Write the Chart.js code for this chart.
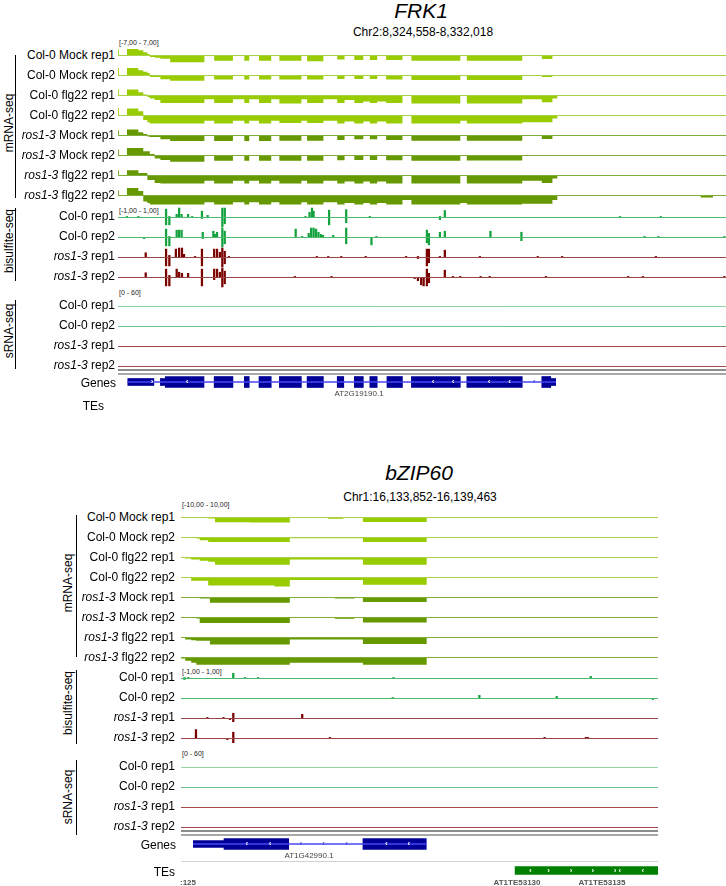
<!DOCTYPE html>
<html>
<head>
<meta charset="utf-8">
<script src="https://cdn.jsdelivr.net/npm/chart.js@4/dist/chart.umd.min.js"></script>
<style>
  body { margin: 0; background: #fff; }
  #page { position: relative; width: 726px; height: 886px; overflow: hidden; background: #fff;
          font-family: "Liberation Sans", Arial, sans-serif; }
  #page canvas { position: absolute; }
  .t { position: absolute; white-space: nowrap; color: #000; }
</style>
</head>
<body>
<div id="page"></div>
<script>
// ---------------- data ----------------
// FRK1 window Chr2:8,324,558-8,332,018, positions are bp from window start
const frkSpan = 7460;
const frkBins = [0, 10, 110, 250, 310, 360, 390, 450, 520, 640, 1060, 1180, 1410, 1550, 1610, 1730, 1880, 1980, 2250,
  2320, 2520, 2690, 2780, 2900, 3010, 3090, 3180, 3290, 3490, 3600, 4200, 4280, 4960, 5200, 5330, 5390, 7150, 7300];

// mRNA-seq coverage per bin (range -7..7, minus strand below the line)
const frkColMock1 = [4, 0, 4.4, 3.5, 2.1, 1, -1, -1.5, -2.1, -4.5, 0, -3.5, 0, -3.5, 0, -3.5, 0, -3.5, 0, -3.8, 0, -2.6, 0, -3, 0, -3, 0, -3, 0, -3.5, 0, -3.5, 0, -2.3, 0, 0, 0, 0];
const frkColMock2 = [5, 0, 5, 3.5, 2.5, 1.7, -1, -1, -2.5, -3.5, 0, -2.6, 0, -2.6, 0, -2.6, 0, -2.6, 0, -2.6, 0, -2.4, 0, -2.3, 0, -2.3, 0, -2.6, 0, -3, 0, -3, 0, -1, 0, 0, 0, 0];
const frkColFlg1 = [4, 0, 4, 2.1, 0.7, -1, -2, -3, -5, -5, -2.5, -5, -2.5, -5, -2.5, -5, -2.5, -5.4, -2.5, -5, -2.5, -5, -3, -5, -4, -5, -4, -5, 0, -5.4, 0, -5.4, -2.5, -4.5, -2, 0, 0, 0];
const frkColFlg2 = [5, 0, 4.7, 2.8, -3, -4.5, -5.4, -5.4, -5.4, -5.4, -3.5, -5.4, -3.5, -5.4, -3.5, -5.4, -3.5, -5, -3.5, -5, -3.5, -5.4, -4, -5.4, -4, -5.4, -4, -5.4, 0, -5.4, -3.5, -5.4, -4.5, -4.5, -2, 0, 0, 0];
const frkRosMock1 = [3.5, 0, 4, 2.1, 1, -0.7, -1, -1, -2.5, -3.7, 0, -3.7, 0, -3.7, 0, -3.7, 0, -3.5, 0, -3.5, 0, -3, 0, -2.5, 0, -2.5, 0, -3, 0, -3.5, 0, -3.5, 0, -2.3, 0, 0, 0, 0];
const frkRosMock2 = [4, 0, 5, 5, 2.8, 2.8, 1, -2, -3, -4.2, 0, -3.5, 0, -3.5, 0, -3.5, 0, -3.5, 0, -3.5, 0, -3.2, 0, -3, 0, -3, 0, -3.2, 0, -3.5, 0, -3.3, 0, 0, 0, 0, 0, 0];
const frkRosFlg1 = [3.5, 0, 3.5, 1.7, 1.7, -3, -3, -5, -5.4, -5.4, -3.5, -5.4, -3.5, -5.4, -3.5, -5.4, -3.5, -5.4, -3.5, -5.4, -3.5, -5.4, -4, -5.4, -4, -5.4, -4, -5.4, 0, -5.4, 0, -5.4, -3.5, -5, -2, 0, 0, 0];
const frkRosFlg2 = [3.5, 0, 5, 3, -4, -5, -6, -6, -6, -6, -4.5, -6, -4.5, -6, -4.5, -6, -4.5, -6, -4.5, -6, -4.5, -6, -5, -6, -5, -6, -5, -6, -3, -6, -5, -6, -5.5, -5.5, -3, 0, -1.4, 0];

// bisulfite-seq methylation (range -1..1): position, top, bottom
const frkBsCol1Pos = [110, 250, 590, 630, 720, 750, 780, 860, 910, 1030, 1100, 1280, 1310, 2300, 2350, 2380, 2400, 2590, 2800, 3090, 3950, 4010, 6160, 6660];
const frkBsCol1Hi  = [0.1, 0.1, 0.8, 0.1, 0.3, 0.9, 0.3, 0.3, 0.1, 0.6, 0.2, 0.9, 0.9, 0.1, 0.5, 0.9, 0.6, 0.7, 0.75, 0.1, 0.1, 0.67, 0.1, 0.1];
const frkBsCol1Lo  = [0, 0, -0.7, -0.7, 0, 0, 0, 0, 0, -0.1, 0, -0.9, -0.6, 0, 0, 0, 0, -0.7, -0.5, 0, -0.2, 0, 0, 0];
const frkBsCol2Pos = [320, 590, 630, 720, 750, 780, 1040, 1170, 1190, 1215, 1280, 1310, 2180, 2260, 2340, 2370, 2400, 2430, 2460, 2490, 2515, 2640, 2800, 3110, 3170, 3790, 3815, 3950, 4010, 4570, 4950, 6460, 6630, 7440];
const frkBsCol2Hi  = [0, 0.8, 0.1, 0.7, 0.7, 0.7, 0.5, 0.6, 0.3, 0.5, 0.9, 0.6, 0.8, 0.1, 0.4, 0.9, 0.9, 0.8, 0.5, 0.3, 0.2, 0.2, 0.9, 0, 0.1, 0.7, 0.4, 0.5, 0.6, 0.6, 0.5, 0.1, 0.1, 0.1];
const frkBsCol2Lo  = [-0.1, -0.8, -0.8, 0, 0, 0, -0.1, 0, 0, 0, -0.9, -0.6, 0, 0, 0, 0, 0, 0, 0, 0, 0, 0, -0.6, -0.7, 0, -0.5, -0.7, 0, 0, 0, -0.3, 0, 0, 0];
const frkBsRos1Pos = [340, 590, 630, 710, 750, 785, 810, 945, 1030, 1180, 1215, 1250, 1280, 1310, 1360, 2440, 2580, 2740, 3040, 3535, 3680, 3790, 3815, 3950, 4010, 4440, 5150, 5450, 6600];
const frkBsRos1Hi  = [0.45, 0.8, 0.2, 0.8, 0.9, 0.9, 0.3, 0.1, 0.8, 0.8, 0.8, 0.5, 0.9, 0.6, 0.1, 0.1, 0.1, 0.1, 0.1, 0.1, 0.1, 0.8, 0.8, 0.1, 0.7, 0.1, 0.1, 0.1, 0.1];
const frkBsRos1Lo  = [0, -0.8, -0.8, 0, 0, 0, 0, 0, -0.8, 0, 0, 0, -0.9, -0.6, 0, 0, 0, 0, 0, 0, -0.1, -0.8, -0.5, 0, 0, 0, 0, 0, 0];
const frkBsRos2Pos = [340, 590, 630, 720, 750, 785, 860, 1030, 1180, 1215, 1250, 1280, 1310, 2170, 2620, 3640, 3680, 3720, 3750, 3790, 3815, 4010, 4110, 4200, 4450, 4560, 5250, 6260, 6440, 7440];
const frkBsRos2Hi  = [0.45, 0.8, 0.2, 0.8, 0.5, 0.4, 0.4, 0.8, 0.8, 0.8, 0.5, 0.9, 0.6, 0.1, 0.1, 0, 0, 0, 0, 0.8, 0.4, 0.7, 0.1, 0.1, 0.1, 0.1, 0.1, 0.1, 0.1, 0.1];
const frkBsRos2Lo  = [0, -0.8, -0.8, 0, 0, 0, 0, -0.8, -0.2, 0, 0, -0.9, -0.6, 0, 0, -0.1, -0.3, -0.7, -0.8, -0.8, -0.5, 0, 0, 0, 0, 0, 0, 0, 0, 0];

// sRNA-seq (range 0..60) - no reads in this window
const frkSrnaPos = [0];
const frkSrnaCol1 = [0];
const frkSrnaCol2 = [0];
const frkSrnaRos1 = [0];
const frkSrnaRos2 = [0];

// gene models (AT2G19190.1 and neighbour)
const frkGeneSpan = [[120, 5370]];
const frkUtr = [[120, 440], [520, 580], [5310, 5370]];
const frkCds = [[580, 1055], [1180, 1410], [1550, 1610], [1730, 1880], [1980, 2250], [2320, 2520], [2690, 2770],
  [2900, 3010], [3090, 3180], [3300, 3490], [3600, 4200], [4280, 4960], [5200, 5310]];
const frkArrowPos = [417, 847, 3865, 4110, 4552, 4806, 5104];
const frkArrowDir = ['>', '<', '<', '<', '<', '<', '<'];

// bZIP60 window Chr1:16,133,852-16,139,463
const bzSpan = 5611;
const bzBins = [0, 50, 120, 180, 220, 320, 340, 400, 810, 1100, 1280, 1730, 1810, 1910, 2040, 2140, 2890];

// mRNA-seq coverage per bin (range -10..10)
const bzColMock1 = [0, 0, 0, 0, 0, -1, -1, -4.5, -4.8, -4.8, 0, -1.3, -1.3, 0, 0, -4.3, 0];
const bzColMock2 = [0, 0, 0, -1, -2.5, -4.3, -4.3, -4.3, -4.3, -4.3, -0.7, -0.7, -0.7, -0.7, -0.7, -4.3, 0];
const bzColFlg1 = [0, -1, -2, -2, -3, -4, -4, -7, -7, -7, -2, -2, -2, -2, -2, -7, 0];
const bzColFlg2 = [0, 0, -3, -3, -3, -7.7, -7.7, -7.7, -7.7, -8.5, -2.3, -2.3, -2.3, -2.3, -2.3, -7, 0];
const bzRosMock1 = [0, 0, 0, 0, -1, -1, -5, -5, -5, -5, 0, 0, -1, -1, 0, -4.3, 0];
const bzRosMock2 = [0, 0, 0, -1, -5.3, -5.3, -5.3, -5.3, -5.3, -5.3, 0, 0, -1.3, -1.3, 0, -4.7, 0];
const bzRosFlg1 = [0, -2, -2.5, -3, -3, -3, -6.7, -6.7, -6.7, -6.7, -2, -2, -2, -2, -2, -6.3, 0];
const bzRosFlg2 = [-1, -3, -5, -7, -7, -7, -7, -7, -7, -7, -5, -5, -5, -5, -5, -7, 0];

const bzBsCol1Pos = [40, 86, 615, 753, 906, 2500, 4820];
const bzBsCol1Hi  = [0.1, 0.1, 0.5, 0.1, 0.1, 0.1, 0.2];
const bzBsCol1Lo  = [-0.1, 0, 0, 0, 0, 0, 0];
const bzBsCol2Pos = [2490, 3510, 4420, 5550];
const bzBsCol2Hi  = [0.1, 0.3, 0.2, 0];
const bzBsCol2Lo  = [0, 0, 0, -0.1];
const bzBsRos1Pos = [310, 500, 576, 615, 1426];
const bzBsRos1Hi  = [0.1, 0.1, 0, 0.5, 0.4];
const bzBsRos1Lo  = [0, 0, -0.1, -0.3, 0];
const bzBsRos2Pos = [176, 545, 615, 1752, 4277, 4763, 4786];
const bzBsRos2Hi  = [0.85, 0, 0.6, 0.1, 0.1, 0.1, 0.1];
const bzBsRos2Lo  = [0, -0.1, -0.4, 0, 0, 0, 0];

const bzSrnaPos = [0];
const bzSrnaCol1 = [0];
const bzSrnaCol2 = [0];
const bzSrnaRos1 = [0];
const bzSrnaRos2 = [0];

const bzGeneSpan = [[145, 2885]];
const bzUtr = [[145, 506]];
const bzCds = [[506, 1267], [2140, 2885]];
const bzArrowPos = [774, 1047, 1411, 1673, 1949, 2414, 2681];
const bzArrowDir = ['<', '<', '<', '<', '<', '<', '<'];

const bzTe = [[3930, 5611]];
const bzTeArrowPos = [4108, 4324, 4590, 4845, 5107, 5162, 5433];
const bzTeArrowDir = ['<', '>', '>', '>', '>', '<', '<'];

const mrnaLabels = ['Col-0 Mock rep1', 'Col-0 Mock rep2', 'Col-0 flg22 rep1', 'Col-0 flg22 rep2',
  '<i>ros1-3</i> Mock rep1', '<i>ros1-3</i> Mock rep2', '<i>ros1-3</i> flg22 rep1', '<i>ros1-3</i> flg22 rep2'];
const sampleLabels = ['Col-0 rep1', 'Col-0 rep2', '<i>ros1-3</i> rep1', '<i>ros1-3</i> rep2'];

// ---------------- drawing helpers ----------------
const page = document.getElementById('page');
const fontName = '"Liberation Sans", Arial, sans-serif';

function text(str, x, y, size, align, extra) {
  const d = document.createElement('div');
  d.className = 't';
  d.innerHTML = str;
  d.style.fontSize = size + 'px';
  d.style.lineHeight = size + 'px';
  d.style.top = (y - size / 2) + 'px';
  if (align === 'right') d.style.right = (726 - x) + 'px';
  else if (align === 'center') { d.style.left = x + 'px'; d.style.transform = 'translateX(-50%)'; }
  else d.style.left = x + 'px';
  if (extra) Object.assign(d.style, extra);
  page.appendChild(d);
}

function vlabel(str, cx, cy) {
  const d = document.createElement('div');
  d.className = 't';
  d.textContent = str;
  d.style.fontSize = '12px';
  d.style.lineHeight = '12px';
  d.style.left = cx + 'px';
  d.style.top = cy + 'px';
  d.style.transform = 'translate(-50%,-50%) rotate(-90deg)';
  page.appendChild(d);
}

function rule(x, y, w, h, color) {
  const d = document.createElement('div');
  d.style.position = 'absolute';
  d.style.left = x + 'px'; d.style.top = y + 'px';
  d.style.width = w + 'px'; d.style.height = h + 'px';
  d.style.background = color;
  page.appendChild(d);
}

function makeCanvas(x, y, w, h) {
  const c = document.createElement('canvas');
  c.width = w; c.height = h;
  c.style.left = x + 'px'; c.style.top = y + 'px';
  c.style.width = w + 'px'; c.style.height = h + 'px';
  page.appendChild(c);
  return c;
}

function quietOptions(span, ymin, ymax) {
  return {
    responsive: false, animation: false, devicePixelRatio: 1, events: [],
    layout: { padding: 0 },
    plugins: { legend: { display: false }, tooltip: { enabled: false } },
    scales: {
      x: { type: 'linear', min: 0, max: span, display: false, offset: false },
      y: { type: 'linear', min: ymin, max: ymax, display: false }
    }
  };
}

function baseline(span, color) {
  return { type: 'line', data: [{ x: 0, y: 0 }, { x: span, y: 0 }], borderColor: color,
           borderWidth: 1, pointRadius: 0, order: 0 };
}

function mrnaTrack(left, row, width, span, range, bins, vals, fill, line) {
  // each bin value holds from its start until the next bin start
  const pts = bins.map((b, i) => ({ x: b, y: vals[i] }));
  pts.push({ x: span, y: 0 });
  new Chart(makeCanvas(left, row - 10, width, 21), {
    type: 'line',
    data: { datasets: [
      baseline(span, line),
      { data: pts, stepped: 'before', fill: 'origin', backgroundColor: fill,
        borderColor: 'rgba(0,0,0,0)', borderWidth: 0, pointRadius: 0, order: 1 }
    ] },
    options: quietOptions(span, -range, range)
  });
}

function bsTrack(left, row, width, span, pos, hi, lo, bar, line) {
  const pts = pos.map((p, i) => ({ x: p, y: [lo[i], hi[i]] }));
  new Chart(makeCanvas(left, row - 10, width, 21), {
    type: 'bar',
    data: { datasets: [
      baseline(span, line),
      { type: 'bar', data: pts, backgroundColor: bar, barThickness: 1.6, order: 1 }
    ] },
    options: quietOptions(span, -1, 1)
  });
}

function srnaTrack(left, row, width, span, pos, vals, line) {
  // range 0-60, zero sits on the bottom row of the track
  const pts = pos.map((p, i) => ({ x: p, y: vals[i] }));
  pts.push({ x: span, y: 0 });
  new Chart(makeCanvas(left, row - 20, width, 21), {
    type: 'line',
    data: { datasets: [{ data: pts, stepped: 'before', fill: 'origin', backgroundColor: line,
      borderColor: line, borderWidth: 1, pointRadius: 0 }] },
    options: quietOptions(span, -1.5, 60)
  });
}

function inside(p, boxes) {
  return boxes.some(b => p >= b[0] && p <= b[1]);
}

// small strand arrows drawn on top of the features
function arrowPlugin(pos, dir, boxes, onBox, onLine) {
  return {
    id: 'strandArrows',
    afterDatasetsDraw(chart) {
      const ctx = chart.ctx, xs = chart.scales.x, a = chart.chartArea;
      ctx.save();
      ctx.font = 'bold 8px ' + fontName;
      ctx.textAlign = 'center';
      ctx.textBaseline = 'middle';
      pos.forEach((p, i) => {
        ctx.fillStyle = inside(p, boxes) ? onBox : onLine;
        ctx.fillText(dir[i] === '<' ? '\u2039' : '\u203a', xs.getPixelForValue(p), (a.top + a.bottom) / 2);
      });
      ctx.restore();
    }
  };
}

function featureTrack(left, top, width, height, span, layers, arrows) {
  const datasets = layers.map(l => ({
    data: l.boxes.map(b => ({ x: b, y: 'f' })),
    backgroundColor: l.color, barThickness: l.thick, grouped: false
  }));
  const opts = quietOptions(span, 0, 1);
  opts.indexAxis = 'y';
  opts.scales.y = { type: 'category', labels: ['f'], display: false };
  new Chart(makeCanvas(left, top, width, height), {
    type: 'bar',
    data: { labels: ['f'], datasets: datasets },
    options: opts,
    plugins: arrows ? [arrows] : []
  });
}

// ---------------- panels ----------------
const colFill = '#99cc00', rosFill = '#669900';
const colLine = '#a8d345', rosLine = '#7fae36';
const bsCol = '#14a23e', bsRos = '#7a0000';
const bsColLine = '#4cbb6b', bsRosLine = '#9a4545';
const geneBlue = '#000096', geneLine = '#4646f0';

function panel(p) {
  text(p.title, p.titleX, p.titleY, 21, 'center', { fontStyle: 'italic' });
  text(p.locus, p.locusX, p.locusY, 12, 'center');

  text(p.mrnaRange, p.left + 1, p.mrnaRows[0] - 13, 7, 'left', { color: '#222' });
  text('[-1,00 - 1,00]', p.left + 1, p.bsRows[0] - 7, 7, 'left', { color: '#222' });
  text('[0 - 60]', p.left + 1, p.srnaRows[0] - 14, 7, 'left', { color: '#222' });

  p.mrna.forEach((vals, i) => {
    const ros = i >= 4;
    mrnaTrack(p.left, p.mrnaRows[i], p.width, p.span, p.range, p.bins, vals,
      ros ? rosFill : colFill, ros ? rosLine : colLine);
    text(mrnaLabels[i], p.labelRight, p.mrnaRows[i] - 0.5, 12, 'right');
  });
  p.bs.forEach((t, i) => {
    const ros = i >= 2;
    bsTrack(p.left, p.bsRows[i], p.width, p.span, t[0], t[1], t[2],
      ros ? bsRos : bsCol, ros ? bsRosLine : bsColLine);
    text(sampleLabels[i], p.labelRight, p.bsRows[i] - 1, 12, 'right');
  });
  p.srna.forEach((vals, i) => {
    const ros = i >= 2;
    srnaTrack(p.left, p.srnaRows[i], p.width, p.span, p.srnaPos, vals,
      ros ? '#a04848' : (i === 0 ? '#8fd4a0' : '#6cc487'));
    text(sampleLabels[i], p.labelRight, p.srnaRows[i] - 1, 12, 'right');
  });

  // track separators below sRNA
  rule(p.left, p.sepY, p.width, 2, '#8c8c8c');
  rule(p.left, p.sepY + 3.5, p.width, 2, '#a8a8a8');

  const geneBoxes = p.utr.concat(p.cds);
  featureTrack(p.left, p.geneTop, p.width, 22, p.span, [
    { boxes: p.geneSpan, color: geneLine, thick: 1 },
    { boxes: p.utr, color: geneBlue, thick: 7 },
    { boxes: p.cds, color: geneBlue, thick: 11 }
  ], arrowPlugin(p.arrowPos, p.arrowDir, geneBoxes, '#ffffff', geneLine));
  text('Genes', p.labelRight + 1, p.geneTop + 11.5, 12, 'right');
  text(p.geneName, p.geneNameX, p.geneTop + 23, 8, 'center', { color: '#444' });

  // group brackets
  vlabel('mRNA-seq', p.groupX, p.groupY[0]);
  vlabel('bisulfite-seq', p.groupX, p.groupY[1]);
  vlabel('sRNA-seq', p.groupX, p.groupY[2]);
  rule(p.bracketX, p.brackets[0][0], 1.2, p.brackets[0][1] - p.brackets[0][0], '#000');
  rule(p.bracketX, p.brackets[1][0], 1.2, p.brackets[1][1] - p.brackets[1][0], '#000');
  rule(p.bracketX, p.brackets[2][0], 1.2, p.brackets[2][1] - p.brackets[2][0], '#000');
}

panel({
  title: 'FRK1', titleX: 421, titleY: 10, locus: 'Chr2:8,324,558-8,332,018', locusX: 423, locusY: 32,
  left: 118, width: 608, span: frkSpan, range: 7, bins: frkBins, labelRight: 115,
  mrnaRange: '[-7,00 - 7,00]',
  mrnaRows: [55, 75, 95, 115, 135, 155, 175, 195],
  bsRows: [217, 237, 257, 277],
  srnaRows: [306, 326, 346, 366],
  sepY: 369,
  geneTop: 371,
  mrna: [frkColMock1, frkColMock2, frkColFlg1, frkColFlg2, frkRosMock1, frkRosMock2, frkRosFlg1, frkRosFlg2],
  bs: [[frkBsCol1Pos, frkBsCol1Hi, frkBsCol1Lo], [frkBsCol2Pos, frkBsCol2Hi, frkBsCol2Lo],
       [frkBsRos1Pos, frkBsRos1Hi, frkBsRos1Lo], [frkBsRos2Pos, frkBsRos2Hi, frkBsRos2Lo]],
  srnaPos: frkSrnaPos, srna: [frkSrnaCol1, frkSrnaCol2, frkSrnaRos1, frkSrnaRos2],
  geneSpan: frkGeneSpan, utr: frkUtr, cds: frkCds, arrowPos: frkArrowPos, arrowDir: frkArrowDir,
  geneName: 'AT2G19190.1', geneNameX: 359,
  groupX: 9, groupY: [123, 241, 331], bracketX: 15,
  brackets: [[55, 198], [208, 281], [300, 369]]
});
text('TEs', 104, 406, 12, 'right');

panel({
  title: 'bZIP60', titleX: 419, titleY: 472, locus: 'Chr1:16,133,852-16,139,463', locusX: 420, locusY: 497,
  left: 181, width: 477, span: bzSpan, range: 10, bins: bzBins, labelRight: 175,
  mrnaRange: '[-10,00 - 10,00]',
  mrnaRows: [517, 537, 557, 577, 597, 617, 637, 657],
  bsRows: [678, 698, 718, 738],
  srnaRows: [767, 787, 807, 827],
  sepY: 830,
  geneTop: 833,
  mrna: [bzColMock1, bzColMock2, bzColFlg1, bzColFlg2, bzRosMock1, bzRosMock2, bzRosFlg1, bzRosFlg2],
  bs: [[bzBsCol1Pos, bzBsCol1Hi, bzBsCol1Lo], [bzBsCol2Pos, bzBsCol2Hi, bzBsCol2Lo],
       [bzBsRos1Pos, bzBsRos1Hi, bzBsRos1Lo], [bzBsRos2Pos, bzBsRos2Hi, bzBsRos2Lo]],
  srnaPos: bzSrnaPos, srna: [bzSrnaCol1, bzSrnaCol2, bzSrnaRos1, bzSrnaRos2],
  geneSpan: bzGeneSpan, utr: bzUtr, cds: bzCds, arrowPos: bzArrowPos, arrowDir: bzArrowDir,
  geneName: 'AT1G42990.1', geneNameX: 309,
  groupX: 68, groupY: [583, 703, 797], bracketX: 76,
  brackets: [[515, 657], [670, 744], [760, 835]]
});

// TE track of the bZIP60 panel
rule(181, 861, 477, 1, '#d2d2d2');
featureTrack(181, 862, 477, 17, bzSpan, [{ boxes: bzTe, color: '#008000', thick: 8 }],
  arrowPlugin(bzTeArrowPos, bzTeArrowDir, bzTe, '#ffffff', '#008000'));
text('TEs', 175, 872, 12, 'right');
text(':125', 180, 883, 8, 'left', { color: '#555', fontWeight: 'bold' });
text('AT1TE53130', 517, 883, 8, 'center', { color: '#555', fontWeight: 'bold' });
text('AT1TE53135', 602, 883, 8, 'center', { color: '#555', fontWeight: 'bold' });
</script>
</body>
</html>
